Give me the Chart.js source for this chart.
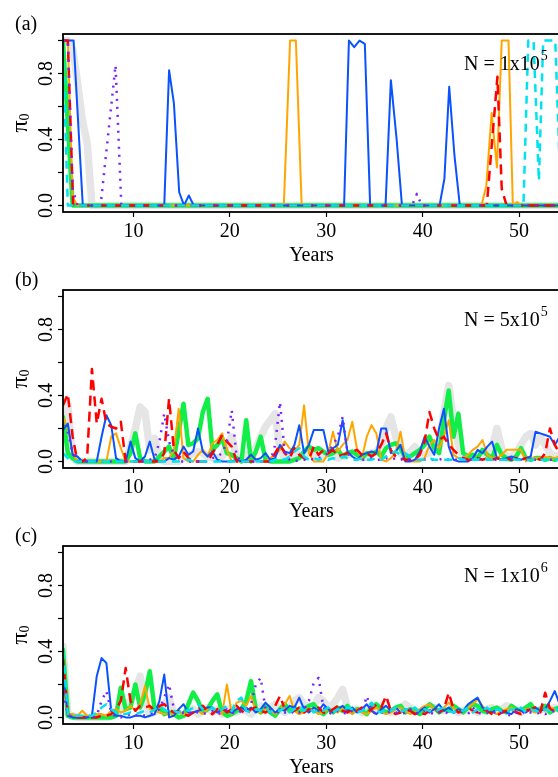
<!DOCTYPE html>
<html>
<head>
<meta charset="utf-8"/>
<script src="https://cdn.jsdelivr.net/npm/chart.js@4.4.1/dist/chart.umd.min.js"></script>
<style>
  html, body { margin: 0; padding: 0; width: 558px; height: 777px; overflow: hidden; background: #fff; }
  canvas { position: absolute; left: 0; }
</style>
</head>
<body>
<canvas id="panelA" width="600" height="270" style="top:0px"></canvas>
<canvas id="panelB" width="600" height="270" style="top:256px"></canvas>
<canvas id="panelC" width="600" height="270" style="top:512px"></canvas>
<script>
// axis ticks
const xTicks = [10, 20, 30, 40, 50];
const yTicks = [0, 0.2, 0.4, 0.6, 0.8, 1.0];
const yLabelVals = [0, 0.4, 0.8];

// (a) N = 1x10^5 : [year, pi0] points
const aGrey   = [[2.7,1],[3.2,1],[3.7,0.95],[4.2,0.75],[4.7,0.52],[5.2,0.38],[5.7,0],[54.7,0]];
const aGreen  = [[2.7,1],[3.7,0],[54.7,0]];
const aOrange = [[2.7,1],[3.2,1],[3.7,0.05],[4.2,0],[25.6,0],[26.25,1],[26.85,1],[27.45,0],[28,0],[46.1,0],[46.6,0.12],[47.15,0.56],[47.7,0.23],[48.2,1],[48.9,1],[49.35,0],[49.8,0.02],[50.2,0],[54.7,0]];
const aBlue   = [[2.7,1],[3.8,1],[4.75,0],[13.2,0],[13.7,0.82],[14.2,0.62],[14.75,0.08],[15.25,0],[15.75,0.06],[16.25,0],[31.85,0],[32.35,1],[32.9,0.96],[33.45,1],[34,0.98],[34.55,0],[36.15,0],[36.7,0.76],[37.3,0.4],[37.85,0],[41.75,0],[42.25,0.16],[42.75,0.72],[43.3,0.3],[43.85,0],[54.7,0]];
const aRed    = [[2.7,1],[3.2,1],[3.75,0],[46.65,0],[47.75,0.78],[48.2,0.1],[48.7,0],[54.7,0]];
const aPurple = [[2.7,1],[3.2,1],[3.7,0.1],[4.2,0],[6.6,0],[8.15,0.85],[8.75,0],[38.9,0],[39.4,0.07],[39.9,0],[54.7,0]];
const aCyan   = [[2.7,0.95],[3.2,0],[50.45,0],[50.95,1],[51.5,1],[52.05,0.15],[52.5,1],[53.75,1],[54.35,0]];

// (b) and (c) share the half-year grid
const years = [2.7,3.2,3.7,4.2,4.7,5.2,5.7,6.2,6.7,7.2,
  7.7,8.2,8.7,9.2,9.7,10.2,10.7,11.2,11.7,12.2,
  12.7,13.2,13.7,14.2,14.7,15.2,15.7,16.2,16.7,17.2,
  17.7,18.2,18.7,19.2,19.7,20.2,20.7,21.2,21.7,22.2,
  22.7,23.2,23.7,24.2,24.7,25.2,25.7,26.2,26.7,27.2,
  27.7,28.2,28.7,29.2,29.7,30.2,30.7,31.2,31.7,32.2,
  32.7,33.2,33.7,34.2,34.7,35.2,35.7,36.2,36.7,37.2,
  37.7,38.2,38.7,39.2,39.7,40.2,40.7,41.2,41.7,42.2,
  42.7,43.2,43.7,44.2,44.7,45.2,45.7,46.2,46.7,47.2,
  47.7,48.2,48.7,49.2,49.7,50.2,50.7,51.2,51.7,52.2,
  52.7,53.2,53.7,54.2,54.7];

// (b) N = 5x10^5
const bGrey = [0.3,0.35,0.02,0,0,0,0,0,0,0, 0,0,0,0,0.09,0.2,0.33,0.3,0.07,0.14,
  0.02,0,0,0,0,0.02,0.03,0.05,0.06,0.05, 0.03,0.02,0.02,0.03,0.1,0.15,0.02,0.01,0.04,0.05,
  0.08,0.15,0.21,0.25,0.29,0.07,0.02,0.03,0.05,0.04, 0.03,0.06,0.04,0.02,0.03,0.05,0.03,0.02,0.03,0.04,
  0.05,0.03,0.02,0.03,0.05,0.06,0.1,0.2,0.27,0.15, 0.05,0.03,0.06,0.09,0.03,0.04,0.05,0.08,0.1,0.3,
  0.46,0.25,0.1,0.03,0.02,0.03,0.04,0.05,0.06,0.08, 0.2,0.08,0.02,0.03,0.05,0.1,0.15,0.17,0.1,0.15,
  0.1,0.05,0.03,0.04,0.02];
const bGreen = [0.27,0.05,0.02,0,0,0,0,0,0,0, 0,0,0,0,0.05,0.17,0.02,0,0,0,
  0.03,0.06,0.09,0.02,0.18,0.35,0.1,0.11,0.14,0.3, 0.38,0.07,0.1,0.14,0.05,0.04,0.02,0,0.25,0,
  0.06,0.15,0.01,0,0,0,0,0,0.01,0.02, 0.06,0.09,0.07,0.08,0.06,0.04,0.05,0.07,0.03,0.05,
  0.06,0.04,0.02,0.05,0.04,0.06,0.03,0.08,0.1,0.11, 0.08,0.02,0.03,0.05,0.07,0.1,0.15,0.08,0.05,0.25,
  0.43,0.15,0.29,0.05,0.03,0.04,0.02,0.07,0.04,0.02, 0.1,0.04,0.02,0.01,0.03,0.08,0.02,0.01,0.02,0.02,
  0.01,0.02,0.01,0.02,0.01];
const bOrange = [0.27,0.2,0.05,0,0,0,0,0,0,0, 0.15,0.17,0.08,0,0,0,0,0,0,0,
  0,0.02,0.02,0.07,0.32,0.02,0,0,0.04,0.07, 0.03,0.11,0.13,0.17,0.07,0,0,0,0,0.04,
  0.01,0,0,0.02,0.04,0.07,0.12,0.08,0.06,0.1, 0.34,0.05,0,0,0,0.05,0.18,0.06,0.1,0.13,
  0.24,0.07,0.02,0.15,0.22,0.17,0.01,0,0.02,0.05, 0.18,0.01,0,0,0,0.02,0.1,0.13,0.08,0.15,
  0.25,0.04,0.02,0.02,0.04,0.07,0.09,0.13,0.04,0.02, 0.02,0.04,0.07,0.07,0.07,0.07,0,0.02,0.02,0.02,
  0.03,0.02,0.02,0.03,0.02];
const bBlue = [0.19,0.23,0.04,0.03,0,0,0,0,0.15,0.28, 0.22,0.02,0,0,0.12,0.02,0,0.03,0.12,0.01,
  0,0,0.02,0.01,0.03,0.09,0.04,0.06,0.2,0.06, 0.03,0.06,0.01,0,0,0,0.01,0,0.01,0.04,
  0.01,0.02,0.05,0.01,0.02,0.1,0.06,0.05,0.1,0.22, 0.05,0.1,0.19,0.19,0.19,0.06,0.08,0.1,0.25,0.06,
  0.03,0.01,0.04,0.05,0.06,0.05,0.2,0.2,0.05,0.06, 0.1,0,0,0.01,0.06,0.15,0.09,0.04,0.2,0.32,
  0.09,0.01,0,0,0,0.02,0.07,0.05,0.09,0.12, 0.02,0.01,0.02,0.03,0.02,0.01,0.02,0.03,0.18,0.17,
  0.16,0.15,0.1,0.15,0.12];
const bRed = [0.34,0.41,0.15,0,0,0.02,0.56,0.23,0.38,0.23, 0.21,0.2,0.24,0,0,0,0,0,0,0,
  0,0.05,0.38,0.07,0.02,0.06,0.02,0,0,0, 0,0.05,0.1,0.16,0.12,0.09,0,0,0,0,
  0,0,0,0,0.05,0.1,0.05,0.02,0.08,0.04, 0.02,0.01,0.09,0.04,0.07,0.05,0.07,0.03,0.04,0.05,
  0.06,0.07,0.04,0.05,0.03,0.05,0.1,0.17,0.07,0.03, 0.02,0.01,0.01,0.01,0.04,0.12,0.3,0.2,0.13,0.15,
  0.1,0.07,0.04,0.02,0.01,0.01,0.02,0.01,0.02,0.01, 0.02,0.01,0.02,0.01,0.02,0.01,0.02,0.01,0.02,0.01,
  0.05,0.2,0.1,0.05,0.02];
const bPurple = [0.22,0.18,0.05,0,0,0,0,0,0,0, 0,0,0,0,0,0,0,0,0.01,0.02,
  0.12,0.29,0.12,0.04,0,0,0,0,0,0, 0,0.02,0.03,0.05,0.12,0.31,0.03,0,0,0,
  0,0,0,0,0.1,0.36,0.05,0.01,0,0.01, 0.01,0.02,0.01,0.02,0.03,0.05,0.1,0.15,0.27,0.05,
  0.02,0.01,0.01,0.01,0.02,0.01,0.01,0.02,0.01,0.02, 0.01,0.02,0.01,0.01,0.02,0.01,0.01,0.01,0.01,0.02,
  0.01,0.01,0.01,0.02,0.01,0.01,0.01,0.01,0.01,0.01, 0.01,0.01,0.02,0.01,0.01,0.01,0.01,0.01,0.01,0.01,
  0.01,0.01,0.01,0.01,0.01];
const bCyan = [0.05,0.02,0,0,0,0,0,0,0,0, 0,0,0,0,0,0,0,0,0,0,
  0,0,0,0,0,0.01,0.01,0,0,0, 0,0,0,0,0,0,0,0,0,0,
  0,0,0,0,0.01,0.02,0.01,0.03,0.06,0.08, 0.03,0.01,0.02,0.01,0.02,0.01,0.02,0.01,0.03,0.02,
  0.01,0.01,0.02,0.01,0.01,0.02,0.01,0.03,0.05,0.06, 0.04,0.05,0.03,0.01,0.01,0.01,0.02,0.01,0.01,0.01,
  0.01,0.01,0.02,0.01,0.01,0.01,0.01,0.02,0.01,0.01, 0.01,0.01,0.01,0.02,0.01,0.01,0.01,0.01,0.01,0.01,
  0.01,0.01,0.01,0.01,0.01];

// (c) N = 1x10^6
const cGrey = [0.43,0.02,0.01,0,0,0,0,0,0,0, 0.01,0.02,0.05,0.08,0.1,0.15,0.25,0.1,0.02,0.03,
  0.05,0.08,0.12,0.03,0.01,0.02,0.03,0.05,0.02,0.04, 0.06,0.03,0.05,0.02,0.04,0.06,0.03,0.05,0.04,0.02,
  0.05,0.07,0.04,0.06,0.08,0.05,0.03,0.06,0.1,0.12, 0.08,0.05,0.07,0.12,0.1,0.06,0.08,0.12,0.17,0.06,
  0.04,0.05,0.03,0.06,0.05,0.04,0.07,0.05,0.03,0.04, 0.05,0.08,0.06,0.04,0.03,0.05,0.04,0.06,0.05,0.04,
  0.06,0.05,0.03,0.04,0.06,0.05,0.03,0.04,0.05,0.06, 0.04,0.05,0.07,0.06,0.04,0.03,0.05,0.06,0.04,0.05,
  0.05,0.04,0.06,0.05,0.04];
const cGreen = [0.41,0.01,0,0,0,0,0,0,0,0, 0,0.01,0.18,0.05,0.06,0.2,0.06,0.14,0.28,0.05,
  0.06,0.02,0.03,0.02,0,0.01,0.08,0.15,0.1,0.03, 0.05,0.1,0.14,0.03,0.01,0.02,0.04,0.05,0.1,0.22,
  0.05,0.03,0.07,0.03,0.01,0.05,0.08,0.04,0.06,0.03, 0.05,0.07,0.08,0.04,0.02,0.05,0.03,0.06,0.04,0.07,
  0.03,0.05,0.04,0.02,0.06,0.08,0.05,0.03,0.04,0.06, 0.07,0.03,0.05,0.04,0.02,0.05,0.08,0.06,0.03,0.05,
  0.04,0.07,0.05,0.03,0.06,0.08,0.07,0.04,0.03,0.05, 0.06,0.04,0.03,0.07,0.05,0.04,0.06,0.08,0.04,0.05,
  0.07,0.03,0.05,0.06,0.04];
const cOrange = [0.22,0.02,0.02,0.01,0.04,0.01,0.01,0.02,0.02,0.01, 0.04,0.05,0.03,0.04,0.07,0.04,0.08,0.19,0.05,0.04,
  0.03,0.02,0.02,0.02,0.03,0.02,0.02,0.03,0.04,0.02, 0.05,0.06,0.04,0.02,0.2,0.02,0.09,0.1,0.07,0.13,
  0.04,0.03,0.05,0.04,0.02,0.05,0.08,0.13,0.04,0.02, 0.03,0.05,0.04,0.02,0.03,0.05,0.04,0.03,0.06,0.04,
  0.02,0.05,0.03,0.02,0.04,0.06,0.03,0.02,0.03,0.05, 0.06,0.04,0.02,0.03,0.05,0.07,0.08,0.05,0.04,0.06,
  0.09,0.06,0.03,0.04,0.06,0.08,0.11,0.07,0.04,0.03, 0.02,0.04,0.05,0.06,0.04,0.03,0.05,0.04,0.03,0.05,
  0.04,0.06,0.05,0.03,0.04];
const cBlue = [0.27,0.01,0,0,0,0,0.01,0.25,0.36,0.33, 0.04,0.01,0.01,0,0,0.01,0.01,0,0.01,0.02,
  0.1,0.26,0,0.01,0.05,0.08,0.03,0.03,0.04,0.05, 0.06,0.06,0.03,0.05,0.04,0.03,0.05,0.06,0.04,0.06,
  0.03,0.05,0.09,0.06,0.03,0.05,0.04,0.07,0.06,0.12, 0.05,0.03,0.06,0.04,0.08,0.05,0.03,0.05,0.07,0.04,
  0.06,0.03,0.05,0.08,0.04,0.02,0.05,0.07,0.04,0.06, 0.03,0.05,0.04,0.02,0.04,0.06,0.03,0.05,0.08,0.04,
  0.06,0.03,0.05,0.04,0.08,0.1,0.12,0.06,0.04,0.03, 0.05,0.04,0.03,0.02,0.05,0.04,0.03,0.05,0.06,0.04,
  0.05,0.1,0.16,0.08,0.05];
const cRed = [0.36,0.02,0.01,0,0,0,0,0,0.01,0.01, 0.02,0.05,0.1,0.3,0.1,0.04,0.07,0.06,0.07,0.04,
  0.07,0.08,0.05,0.03,0.04,0.02,0.01,0.03,0.05,0.07, 0.04,0.02,0.05,0.06,0.03,0.05,0.07,0.04,0.02,0.05,
  0.06,0.04,0.03,0.05,0.07,0.13,0.05,0.03,0.04,0.06, 0.03,0.05,0.04,0.06,0.03,0.02,0.05,0.07,0.04,0.03,
  0.05,0.04,0.06,0.03,0.05,0.08,0.06,0.13,0.04,0.02, 0.03,0.05,0.04,0.02,0.03,0.02,0.04,0.06,0.03,0.05,
  0.15,0.05,0.03,0.04,0.06,0.04,0.03,0.05,0.04,0.02, 0.01,0.03,0.04,0.05,0.03,0.02,0.04,0.05,0.06,0.03,
  0.15,0.05,0.04,0.06,0.03];
const cPurple = [0.15,0.02,0,0,0,0,0,0.01,0.1,0.16, 0.03,0,0,0.01,0.02,0.01,0.02,0.01,0.02,0.03,
  0.05,0.12,0.2,0.05,0.02,0.03,0.02,0.04,0.03,0.02, 0.03,0.04,0.02,0.03,0.05,0.03,0.02,0.04,0.05,0.08,
  0.2,0.24,0.05,0.03,0.02,0.04,0.03,0.02,0.04,0.03, 0.05,0.1,0.21,0.24,0.06,0.03,0.02,0.04,0.03,0.02,
  0.04,0.05,0.03,0.13,0.04,0.02,0.03,0.02,0.04,0.03, 0.02,0.03,0.05,0.03,0.02,0.04,0.03,0.02,0.03,0.04,
  0.02,0.03,0.04,0.03,0.02,0.06,0.03,0.02,0.03,0.02, 0.04,0.03,0.02,0.01,0.03,0.02,0.04,0.03,0.02,0.03,
  0.02,0.03,0.04,0.02,0.03];
const cCyan = [0.4,0.02,0.01,0.01,0.01,0.01,0.01,0.03,0.06,0.08, 0.05,0.03,0.02,0.02,0.03,0.02,0.03,0.04,0.03,0.05,
  0.07,0.05,0.03,0.04,0.03,0.05,0.04,0.06,0.08,0.05, 0.04,0.06,0.03,0.05,0.07,0.04,0.1,0.12,0.04,0.03,
  0.05,0.04,0.06,0.03,0.05,0.04,0.06,0.03,0.05,0.07, 0.04,0.06,0.03,0.05,0.04,0.06,0.03,0.05,0.04,0.06,
  0.05,0.03,0.04,0.06,0.09,0.04,0.03,0.05,0.04,0.06, 0.03,0.05,0.04,0.06,0.03,0.05,0.04,0.03,0.05,0.06,
  0.04,0.03,0.05,0.04,0.06,0.03,0.05,0.04,0.06,0.03, 0.05,0.04,0.03,0.05,0.04,0.06,0.03,0.05,0.04,0.03,
  0.05,0.04,0.06,0.03,0.05];

// line styles, bottom layer first
const styles = {
  grey:   { color: '#e5e5e5', width: 7.5, order: 7 },
  green:  { color: '#12ee48', width: 4.5, order: 6 },
  orange: { color: '#ffa500', width: 2,   order: 5 },
  blue:   { color: '#0a52ff', width: 2,   order: 4 },
  red:    { color: '#ff0000', width: 2.5, order: 3, dash: [10, 6] },
  purple: { color: '#7a22ff', width: 2.5, order: 2, dash: [2, 6] },
  cyan:   { color: '#00e2ee', width: 2.5, order: 1, dash: [8, 6] }
};

const fontFam = '"Liberation Serif", "Times New Roman", serif';
Chart.defaults.font.family = fontFam;
Chart.defaults.color = '#000';

function fromPairs(p) { return p.map(d => ({ x: d[0], y: d[1] })); }
function fromGrid(v) { return v.map((y, i) => ({ x: years[i], y: y })); }

function line(name, pts) {
  const s = styles[name];
  return {
    label: name,
    data: pts,
    borderColor: s.color,
    borderWidth: s.width,
    borderDash: s.dash || [],
    borderCapStyle: s.dash ? 'butt' : 'round',
    borderJoinStyle: 'round',
    pointRadius: 0,
    tension: 0,
    fill: false,
    order: s.order,
    clip: 0
  };
}

// frame, rotated y labels, titles and annotations
const frame = {
  id: 'frame',
  afterDraw(chart, args, o) {
    const ctx = chart.ctx, a = chart.chartArea, y = chart.scales.y;
    ctx.save();
    ctx.strokeStyle = '#000';
    ctx.lineWidth = 1.8;
    ctx.strokeRect(a.left, a.top, a.right - a.left, a.bottom - a.top);

    ctx.fillStyle = '#000';
    ctx.font = '20px ' + fontFam;
    ctx.textAlign = 'center';
    ctx.textBaseline = 'middle';
    yLabelVals.forEach(v => {
      ctx.save();
      ctx.translate(47, y.getPixelForValue(v));
      ctx.rotate(-Math.PI / 2);
      ctx.fillText(v.toFixed(1), 0, 0);
      ctx.restore();
    });

    // pi_0
    ctx.save();
    ctx.translate(21, (a.top + a.bottom) / 2);
    ctx.rotate(-Math.PI / 2);
    ctx.textAlign = 'left';
    ctx.textBaseline = 'alphabetic';
    ctx.font = '24px ' + fontFam;
    const wp = ctx.measureText('π').width;
    ctx.font = '14px ' + fontFam;
    const ws = ctx.measureText('0').width;
    ctx.font = '24px ' + fontFam;
    ctx.fillText('π', -(wp + ws) / 2, 6);
    ctx.font = '14px ' + fontFam;
    ctx.fillText('0', -(wp + ws) / 2 + wp, 8);
    ctx.restore();

    ctx.textAlign = 'left';
    ctx.textBaseline = 'alphabetic';
    ctx.font = '20px ' + fontFam;
    ctx.fillText(o.tag, 15, 30);
    ctx.fillText(o.base, 464, 70);
    const wb = ctx.measureText(o.base).width;
    ctx.font = '14px ' + fontFam;
    ctx.fillText(o.exp, 464 + wb + 1, 60);
    ctx.restore();
  }
};

function makePanel(id, sets, tag, base, exp) {
  new Chart(document.getElementById(id), {
    type: 'line',
    data: { datasets: sets },
    plugins: [frame],
    options: {
      responsive: false,
      animation: false,
      devicePixelRatio: 1,
      layout: { padding: { left: 0, right: 40, top: 34, bottom: 3 } },
      plugins: {
        legend: { display: false },
        tooltip: { enabled: false },
        frame: { tag: tag, base: base, exp: exp }
      },
      scales: {
        x: {
          type: 'linear',
          min: 2.7,
          max: 54.24,
          afterBuildTicks: s => { s.ticks = xTicks.map(v => ({ value: v })); },
          afterFit: s => { s.height = 55; },
          border: { display: false },
          grid: { drawOnChartArea: false, drawTicks: true, tickLength: 5, tickColor: '#000', tickWidth: 1.2 },
          ticks: { font: { size: 20 }, color: '#000', padding: 3, maxRotation: 0, autoSkip: false },
          title: { display: true, text: 'Years', font: { size: 20 }, color: '#000', padding: { top: 0, bottom: -1 } }
        },
        y: {
          type: 'linear',
          min: -0.04,
          max: 1.04,
          afterBuildTicks: s => { s.ticks = yTicks.map(v => ({ value: v })); },
          afterFit: s => { s.width = 63; },
          border: { display: false },
          grid: { drawOnChartArea: false, drawTicks: true, tickLength: 5, tickColor: '#000', tickWidth: 1.2 },
          ticks: { display: false }
        }
      }
    }
  });
}

makePanel('panelA', [
  line('grey', fromPairs(aGrey)),
  line('green', fromPairs(aGreen)),
  line('orange', fromPairs(aOrange)),
  line('blue', fromPairs(aBlue)),
  line('red', fromPairs(aRed)),
  line('purple', fromPairs(aPurple)),
  line('cyan', fromPairs(aCyan))
], '(a)', 'N = 1x10', '5');

makePanel('panelB', [
  line('grey', fromGrid(bGrey)),
  line('green', fromGrid(bGreen)),
  line('orange', fromGrid(bOrange)),
  line('blue', fromGrid(bBlue)),
  line('red', fromGrid(bRed)),
  line('purple', fromGrid(bPurple)),
  line('cyan', fromGrid(bCyan))
], '(b)', 'N = 5x10', '5');

makePanel('panelC', [
  line('grey', fromGrid(cGrey)),
  line('green', fromGrid(cGreen)),
  line('orange', fromGrid(cOrange)),
  line('blue', fromGrid(cBlue)),
  line('red', fromGrid(cRed)),
  line('purple', fromGrid(cPurple)),
  line('cyan', fromGrid(cCyan))
], '(c)', 'N = 1x10', '6');
</script>
</body>
</html>
